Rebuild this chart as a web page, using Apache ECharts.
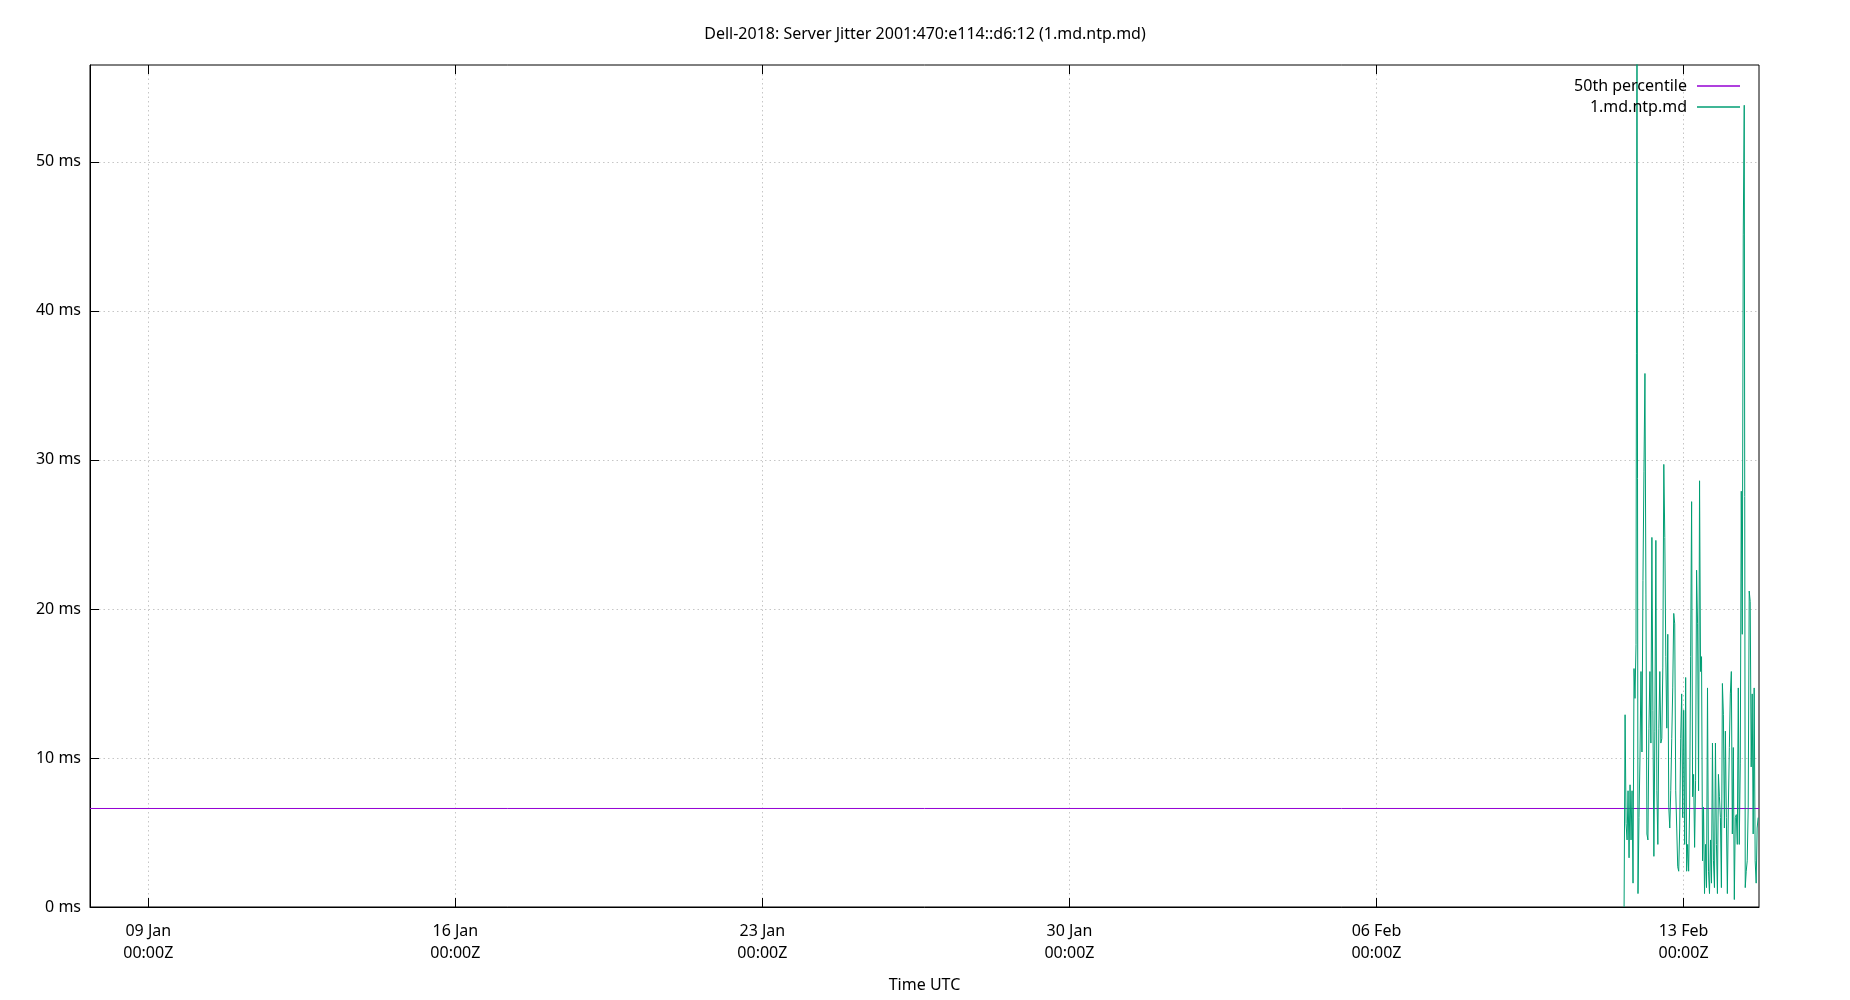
<!DOCTYPE html>
<html>
<head>
<meta charset="utf-8">
<title>Dell-2018: Server Jitter</title>
<script src="https://cdn.jsdelivr.net/npm/echarts@6/dist/echarts.min.js"></script>
<style>
html, body { margin: 0; padding: 0; background: #ffffff; }
#chart { width: 1850px; height: 1000px; }
</style>
</head>
<body>
<div id="chart"></div>
<script>
// ---- data ----
const chartTitle = 'Dell-2018: Server Jitter 2001:470:e114::d6:12 (1.md.ntp.md)';
const seriesNames = ['50th percentile', '1.md.ntp.md'];
const xRangeStart = Date.UTC(2024, 0, 7, 16, 6);
const xRangeEnd = Date.UTC(2024, 1, 14, 17, 18);
const jitterStart = Date.UTC(2024, 1, 11, 15, 29);
const jitterStepMinutes = 32.6;
const jitterValues = [
  0, 12.9, 5.6, 4.5, 7.8, 3.3, 8.2, 4.5, 7.8, 1.6,
  16, 14, 17.6, 62, 0.9, 6, 10, 15.8, 10.4, 21.9,
  29.2, 35.8, 21, 4.9, 4.5, 12, 15.8, 11, 24.8, 13.2,
  3.4, 11.8, 24.6, 7.8, 4.2, 12, 15.8, 11, 11.3, 16.1,
  29.7, 24.8, 16.8, 12, 18.3, 6.7, 5.3, 7.8, 11.3, 14.7,
  19.7, 19, 7.8, 5.3, 2.7, 2.4, 5.3, 11.3, 14.3, 6,
  13.2, 4.2,
  15.4, 2.4, 4.2, 2.4, 6.7, 16.8, 27.2, 7.4, 8.9, 4,
  8.5, 22.6, 19, 7.8, 28.6, 15.8, 16.8, 3.1, 6.7, 0.9,
  4.2, 1.3, 14.7, 2.4, 0.9, 4.5, 1.6, 11, 3.1, 1.3,
  11, 4.2, 0.9, 8.9, 7.4, 6, 1.3, 15, 12.9, 5.3,
  11.8, 6, 0.9, 6.7, 10.7, 14.3, 15.8, 4.9, 10.7, 0.5,
  6, 6.2, 4.2, 14.7, 4.2, 9.6, 27.9, 18.3, 45.1, 53.8,
  1.3, 2.4, 3.1, 6.7, 21.2, 20.5, 9.4, 14.3, 4.9, 14.7,
  3.1, 1.6, 5.3, 6
];
const medianValue = 6.61;
const xTicks = [
  Date.UTC(2024, 0, 9), Date.UTC(2024, 0, 16), Date.UTC(2024, 0, 23),
  Date.UTC(2024, 0, 30), Date.UTC(2024, 1, 6), Date.UTC(2024, 1, 13)
];
const yTicks = [0, 10, 20, 30, 40, 50];
const yMax = 56.5;
const monthNames = ['Jan','Feb','Mar','Apr','May','Jun','Jul','Aug','Sep','Oct','Nov','Dec'];

// ---- build series data ----
const jitterData = jitterValues.map((v, i) => [jitterStart + i * jitterStepMinutes * 60000, v]);
const medianData = [[xRangeStart, medianValue], [xRangeEnd, medianValue]];

const FONT = '"Noto Sans", "Open Sans", sans-serif';
const gridDash = { color: '#c6c6c6', width: 1, type: [1.5, 3] };

function fmtDate(v) {
  const d = new Date(v);
  const dd = String(d.getUTCDate()).padStart(2, '0');
  return dd + ' ' + monthNames[d.getUTCMonth()] + '\n00:00Z';
}

const chart = echarts.init(document.getElementById('chart'), null, { renderer: 'canvas' });
chart.setOption({
  animation: false,
  backgroundColor: '#ffffff',
  textStyle: { fontFamily: FONT },
  title: {
    text: chartTitle,
    left: 'center',
    top: 21,
    textStyle: { fontFamily: FONT, fontSize: 16, fontWeight: 'normal', color: '#000' }
  },
  legend: {
    orient: 'vertical',
    right: 110,
    top: 75.5,
    padding: 0,
    align: 'right',
    icon: 'rect',
    itemWidth: 43,
    itemHeight: 1.5,
    itemGap: 0,
    textStyle: { fontFamily: FONT, fontSize: 16, color: '#000', lineHeight: 21, padding: [0, 5, 0, 0] },
    data: seriesNames
  },
  grid: {
    left: 90, right: 91, top: 65, bottom: 93,
    show: true, borderColor: '#000', borderWidth: 1, backgroundColor: 'transparent'
  },
  xAxis: [{
    type: 'value',
    min: xRangeStart,
    max: xRangeEnd,
    position: 'bottom',
    name: 'Time UTC',
    nameLocation: 'middle',
    nameGap: 70,
    nameTextStyle: { fontFamily: FONT, fontSize: 16, color: '#000' },
    axisLine: { show: true, lineStyle: { color: '#000', width: 1 } },
    axisTick: { show: true, inside: true, length: 9, customValues: xTicks, lineStyle: { color: '#000' } },
    axisLabel: {
      customValues: xTicks,
      formatter: fmtDate,
      fontFamily: FONT, fontSize: 16, color: '#000',
      lineHeight: 21.7, margin: 14
    },
    splitLine: { show: true, lineStyle: gridDash }
  }, {
    type: 'value',
    min: xRangeStart,
    max: xRangeEnd,
    position: 'top',
    axisLine: { show: false },
    axisTick: { show: true, inside: true, length: 9, customValues: xTicks, lineStyle: { color: '#000' } },
    axisLabel: { show: false },
    splitLine: { show: false }
  }],
  yAxis: {
    type: 'value',
    min: 0,
    max: yMax,
    interval: 10,
    axisLine: { show: true, lineStyle: { color: '#000', width: 1 } },
    axisTick: { show: true, inside: true, length: 9, customValues: yTicks, lineStyle: { color: '#000' } },
    axisLabel: {
      customValues: yTicks,
      formatter: v => v + ' ms',
      fontFamily: FONT, fontSize: 16, color: '#000', margin: 9
    },
    splitLine: { show: true, lineStyle: gridDash }
  },
  series: [{
    name: seriesNames[0],
    type: 'line',
    data: medianData,
    symbol: 'none',
    color: '#9400d3',
    lineStyle: { color: '#9400d3', width: 1 },
    z: 2
  }, {
    name: seriesNames[1],
    type: 'line',
    data: jitterData,
    symbol: 'none',
    sampling: 'none',
    clip: true,
    color: '#009e73',
    lineStyle: { color: '#009e73', width: 1 },
    z: 3
  }]
});
</script>
</body>
</html>
